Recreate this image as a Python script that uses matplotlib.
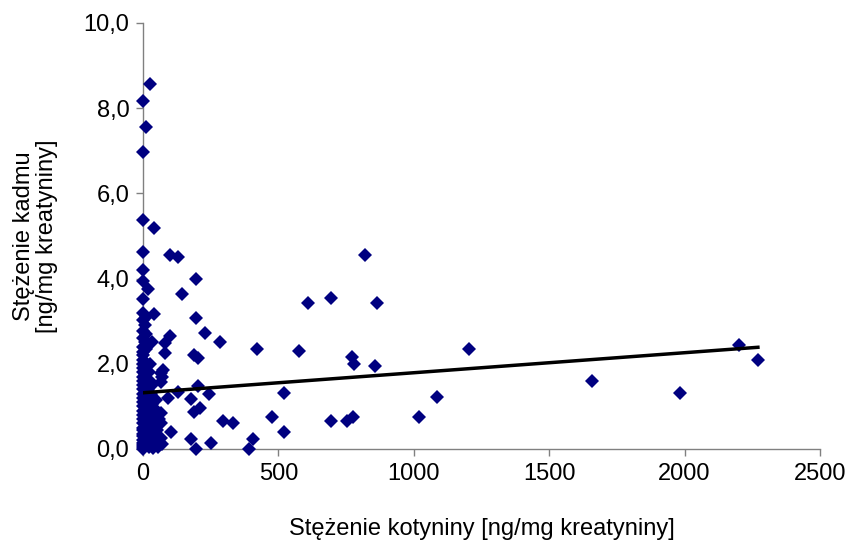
import matplotlib
matplotlib.use("Agg")
import matplotlib.pyplot as plt
import numpy as np

plt.rcParams['font.family'] = ['Liberation Sans', 'DejaVu Sans']

# cotinine [ng/mg creatinine] vs cadmium [ng/mg creatinine]
kotynina = [
    # dense column near zero
    0, 0, 0, 0, 0, 0, 0, 0, 0, 0, 0, 0, 0, 0, 0, 0, 0, 0, 0, 0,
    0, 0, 0, 0, 0, 0, 0, 0, 0, 0, 0, 0, 0, 0, 0, 0, 0, 0, 0,
    10, 26, 40, 18, 41, 33,
    20, 22, 18, 25, 20, 28, 22, 18, 25, 20, 24,
    40, 45, 38, 48, 42, 46, 35,
    55, 66, 70, 50, 60, 45,
    8, 10, 6, 12, 8, 10, 6, 12, 8, 10, 6, 12, 8, 10, 6, 12, 8, 10,
    30, 32, 28, 34, 30, 32, 28, 34,
    # rest of the sample
    81, 81, 100, 66, 66, 92, 129, 66, 66, 103, 74, 70, 100, 129, 144,
    196, 196, 229, 284, 188, 203, 203, 177, 244, 188, 210, 295, 332,
    177, 251, 196, 406, 391, 476, 521, 521, 421, 576, 609, 694, 820,
    864, 772, 779, 857, 694, 753, 775, 1019, 1086, 1204, 1658, 1983,
    2201, 2271,
]
kadm = [
    0.0, 0.05, 0.1, 0.15, 0.2, 0.3, 0.35, 0.45, 0.5, 0.6, 0.7, 0.8, 0.9, 1.0,
    1.1, 1.2, 1.3, 1.4, 1.5, 1.6, 1.7, 1.8, 1.9, 2.0, 2.1, 2.2, 2.28, 2.4,
    2.6, 2.77, 3.03, 3.19, 3.52, 3.94, 4.2, 4.62, 5.38, 6.97, 8.17,
    7.56, 8.57, 5.19, 3.76, 3.17, 2.51,
    0.05, 0.2, 0.4, 0.6, 0.8, 1.0, 1.2, 1.4, 1.6, 1.8, 2.0,
    0.1, 0.3, 0.55, 0.75, 0.95, 1.15, 0.02,
    0.05, 0.26, 0.12, 0.45, 0.7, 0.9,
    0.08, 0.25, 0.42, 0.58, 0.75, 0.92, 1.08, 1.25, 1.42, 1.58, 1.75, 1.92,
    2.05, 2.35, 2.5, 2.7, 2.9, 3.1,
    0.15, 0.35, 0.5, 0.7, 0.85, 1.05, 1.3, 1.5,
    2.25, 2.49, 2.65, 1.78, 1.57, 1.2, 1.34, 0.84, 0.61, 0.4, 1.85, 1.69,
    4.55, 4.5, 3.64,
    3.99, 3.07, 2.73, 2.51, 2.2, 2.13, 1.48, 1.17, 1.29, 0.87, 0.96, 0.66,
    0.61, 0.23, 0.14, 0.0, 0.23, 0.0, 0.75, 1.31, 0.4, 2.35, 2.3, 3.42,
    3.55, 4.55, 3.42, 2.16, 2.0, 1.95, 0.66, 0.66, 0.75, 0.75, 1.22, 2.35,
    1.6, 1.31, 2.44, 2.09,
]

# linear trend
a, b = 0.00047, 1.32
x_trend = np.array([0, max(kotynina)])
y_trend = a * x_trend + b

y_ticks = [0, 2, 4, 6, 8, 10]
x_ticks = [0, 500, 1000, 1500, 2000, 2500]

fig = plt.figure(figsize=(8.47, 5.42), dpi=100)
ax = fig.add_axes([0.169, 0.1716, 0.799, 0.786])

ax.plot(kotynina, kadm, linestyle='none', marker='D', markersize=7,
        color='#000080', markeredgewidth=0, clip_on=False, zorder=3)
ax.plot(x_trend, y_trend, color='black', linewidth=2.5, zorder=4)

ax.set_xlim(0, 2500)
ax.set_ylim(0, 10)
ax.set_xticks(x_ticks)
ax.set_xticklabels([str(t) for t in x_ticks])
ax.set_yticks(y_ticks)
ax.set_yticklabels([f"{t:.1f}".replace('.', ',') for t in y_ticks])

for s in ['top', 'right']:
    ax.spines[s].set_visible(False)
for s in ['left', 'bottom']:
    ax.spines[s].set_color('#808080')
    ax.spines[s].set_linewidth(1.0)
ax.tick_params(axis='both', direction='out', length=5, width=1,
               color='#808080', labelsize=17, pad=5)

ax.set_xlabel("Stężenie kotyniny [ng/mg kreatyniny]", fontsize=17, labelpad=24)
ax.set_ylabel("Stężenie kadmu\n[ng/mg kreatyniny]", fontsize=17, labelpad=18,
              linespacing=1.1)

fig.savefig("out.png", dpi=100)
